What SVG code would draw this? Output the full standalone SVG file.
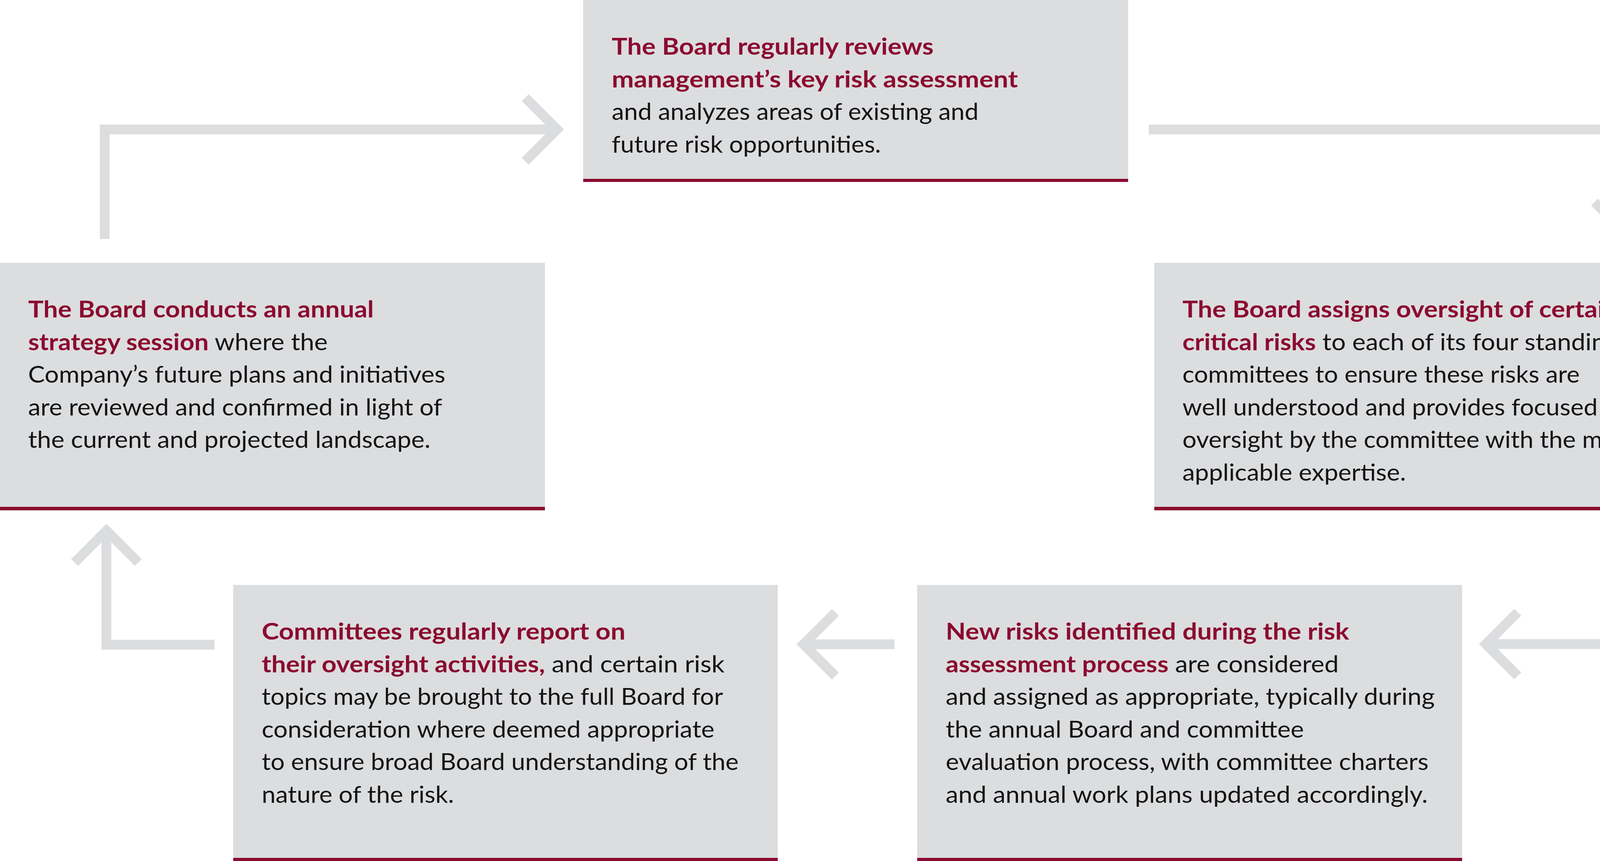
<svg xmlns="http://www.w3.org/2000/svg" width="4350" height="2205" viewBox="0 0 4350 2205">
<style>
.box{fill:#dcdddf}
.bar{fill:#8b0b30}
.t{font-family:Lato,"Noto Sans","Liberation Sans",sans-serif;font-size:60px;fill:#141414}
.b{font-weight:700;fill:#8b0b30}
.c{fill:none;stroke:#dcdddf;stroke-width:25;stroke-linecap:butt;stroke-linejoin:miter}
</style>
<rect width="4350" height="2205" fill="#ffffff"/>
<g id="connectors">
<polyline class="c" points="268,612 268,331.5 1426,331.5"/>
<polyline class="c" points="1344.5,250 1426,331.5 1344.5,413"/>
<polyline class="c" points="2941,331.5 4163.5,331.5 4163.5,599"/>
<polyline class="c" points="4082,517.5 4163.5,599 4245,517.5"/>
<polyline class="c" points="4165.5,1339 4165.5,1649.5 3804,1649.5"/>
<polyline class="c" points="3885.5,1568 3804,1649.5 3885.5,1731"/>
<polyline class="c" points="2290,1650 2057,1650"/>
<polyline class="c" points="2138.5,1568.5 2057,1650 2138.5,1731.5"/>
<polyline class="c" points="549,1651 272.5,1651 272.5,1359"/>
<polyline class="c" points="191,1440.5 272.5,1359 354,1440.5"/>
</g>
<g id="node-review">
<rect class="box" x="1493" y="0" width="1395" height="458"/>
<rect class="bar" x="1493" y="458" width="1395" height="8"/>
<text class="t b" x="1566" y="140" textLength="824" lengthAdjust="spacingAndGlyphs">The Board regularly reviews</text>
<text class="t b" x="1566" y="223.5" textLength="1040" lengthAdjust="spacingAndGlyphs">management’s key risk assessment</text>
<text class="t" x="1566" y="307" textLength="939" lengthAdjust="spacingAndGlyphs">and analyzes areas of existing and</text>
<text class="t" x="1566" y="390.5" textLength="689" lengthAdjust="spacingAndGlyphs">future risk opportunities.</text>
</g>
<g id="node-assign">
<rect class="box" x="2955" y="673" width="1395" height="626"/>
<rect class="bar" x="2955" y="1298" width="1395" height="9"/>
<text class="t b" x="3027" y="813" textLength="1117" lengthAdjust="spacingAndGlyphs">The Board assigns oversight of certain</text>
<text class="t" x="3027" y="896.5" textLength="1117" lengthAdjust="spacingAndGlyphs"><tspan class="b">critical risks</tspan> to each of its four standing</text>
<text class="t" x="3027" y="980" textLength="1017" lengthAdjust="spacingAndGlyphs">committees to ensure these risks are</text>
<text class="t" x="3027" y="1063.5" textLength="1063" lengthAdjust="spacingAndGlyphs">well understood and provides focused</text>
<text class="t" x="3027" y="1147" textLength="1162" lengthAdjust="spacingAndGlyphs">oversight by the committee with the most</text>
<text class="t" x="3027" y="1230.5" textLength="572" lengthAdjust="spacingAndGlyphs">applicable expertise.</text>
</g>
<g id="node-newrisks">
<rect class="box" x="2348" y="1498" width="1395" height="699"/>
<rect class="bar" x="2348" y="2197" width="1395" height="8"/>
<text class="t b" x="2421" y="1638" textLength="1033" lengthAdjust="spacingAndGlyphs">New risks identified during the risk</text>
<text class="t" x="2421" y="1721.5" textLength="1006" lengthAdjust="spacingAndGlyphs"><tspan class="b">assessment process</tspan> are considered</text>
<text class="t" x="2421" y="1805" textLength="1252" lengthAdjust="spacingAndGlyphs">and assigned as appropriate, typically during</text>
<text class="t" x="2421" y="1888.5" textLength="917" lengthAdjust="spacingAndGlyphs">the annual Board and committee</text>
<text class="t" x="2421" y="1972" textLength="1236" lengthAdjust="spacingAndGlyphs">evaluation process, with committee charters</text>
<text class="t" x="2421" y="2055.5" textLength="1234" lengthAdjust="spacingAndGlyphs">and annual work plans updated accordingly.</text>
</g>
<g id="node-report">
<rect class="box" x="597" y="1498" width="1394" height="699"/>
<rect class="bar" x="597" y="2197" width="1394" height="8"/>
<text class="t b" x="670" y="1638" textLength="931" lengthAdjust="spacingAndGlyphs">Committees regularly report on</text>
<text class="t" x="670" y="1721.5" textLength="1185" lengthAdjust="spacingAndGlyphs"><tspan class="b">their oversight activities,</tspan> and certain risk</text>
<text class="t" x="670" y="1805" textLength="1181" lengthAdjust="spacingAndGlyphs">topics may be brought to the full Board for</text>
<text class="t" x="670" y="1888.5" textLength="1159" lengthAdjust="spacingAndGlyphs">consideration where deemed appropriate</text>
<text class="t" x="670" y="1972" textLength="1221" lengthAdjust="spacingAndGlyphs">to ensure broad Board understanding of the</text>
<text class="t" x="670" y="2055.5" textLength="492" lengthAdjust="spacingAndGlyphs">nature of the risk.</text>
</g>
<g id="node-strategy">
<rect class="box" x="0" y="673" width="1395" height="626"/>
<rect class="bar" x="0" y="1298" width="1395" height="9"/>
<text class="t b" x="72" y="813" textLength="885" lengthAdjust="spacingAndGlyphs">The Board conducts an annual</text>
<text class="t" x="72" y="896.5" textLength="767" lengthAdjust="spacingAndGlyphs"><tspan class="b">strategy session</tspan> where the</text>
<text class="t" x="72" y="980" textLength="1068" lengthAdjust="spacingAndGlyphs">Company’s future plans and initiatives</text>
<text class="t" x="72" y="1063.5" textLength="1060" lengthAdjust="spacingAndGlyphs">are reviewed and confirmed in light of</text>
<text class="t" x="72" y="1147" textLength="1030" lengthAdjust="spacingAndGlyphs">the current and projected landscape.</text>
</g>
</svg>
